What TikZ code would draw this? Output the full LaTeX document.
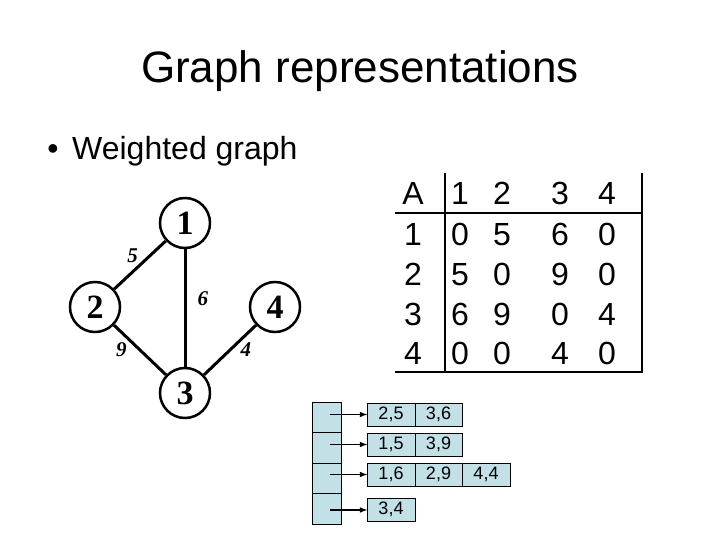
\documentclass[tikz,border=0pt]{standalone}
\usepackage{fontspec}
\setmainfont{Liberation Sans}
\newfontfamily\timesfont{Liberation Serif}
\usepackage{tikz}
\usetikzlibrary{positioning}

\definecolor{cellblue}{RGB}{194,224,230}

\tikzset{
  vertex/.style={draw,circle,line width=2.5pt,minimum size=50pt,inner sep=0pt,
    font=\timesfont\bfseries\fontsize{34}{36}\selectfont},
  edge/.style={line width=3pt},
  weight/.style={inner sep=0pt,font=\timesfont\bfseries\itshape\fontsize{21}{23}\selectfont},
  entry/.style={anchor=base,inner sep=0pt,font=\fontsize{32}{36}\selectfont},
  cell/.style={draw,rectangle,fill=cellblue,minimum width=29pt,minimum height=30.5pt,outer sep=0pt,inner sep=0pt},
  item/.style={draw,rectangle,fill=cellblue,minimum width=47.5pt,minimum height=23pt,outer sep=0pt,inner sep=0pt,
    text height=12pt,text depth=3pt,font=\fontsize{18}{20}\selectfont},
  arr/.style={-latex,line width=1.5pt}
}

\begin{document}
\begin{tikzpicture}[x=1pt,y=-1pt]
\useasboundingbox (0,0) rectangle (720,540);

\node [anchor=base] (title) at (360,83) {\fontsize{44}{50}\selectfont Graph representations};
\node [anchor=base] (dot) at (53,160) {\fontsize{32}{36}\selectfont\textbullet};
\node [anchor=base west,inner sep=0pt] (sub) at (72,160) {\fontsize{32}{36}\selectfont Weighted graph};

% the graph
\node [vertex] (n1) at (185,223) {1};
\node [vertex] (n2) at (95,307) {2};
\node [vertex] (n4) at (275,307) {4};
\node [vertex] (n3) at (185,393) {3};
\draw [edge] (n1) -- (n2) node[weight,midway,above left=1pt]{5};
\draw [edge] (n1) -- (n3) node[weight,pos=.42,right=11pt]{6};
\draw [edge] (n2) -- (n3) node[weight,midway,left=12pt]{9};
\draw [edge] (n3) -- (n4) node[weight,midway,right=9pt]{4};

% adjacency matrix
\node [entry] (hA) at (413,205) {A};
\node [entry] (h1) at (460,205) {1};
\node [entry] (h2) at (502,205) {2};
\node [entry] (h3) at (560,205) {3};
\node [entry] (h4) at (607,205) {4};
\foreach \r/\y/\a/\b/\c/\d in {1/245/0/5/6/0, 2/285/5/0/9/0, 3/325/6/9/0/4, 4/364/0/0/4/0}{
  \node [entry] (r\r) at (413,\y) {\r};
  \node [entry] (m\r a) at (460,\y) {\a};
  \node [entry] (m\r b) at (502,\y) {\b};
  \node [entry] (m\r c) at (560,\y) {\c};
  \node [entry] (m\r d) at (607,\y) {\d};
}
\draw [line width=2.5pt] (445,173) -- (445,372);
\draw [line width=2.5pt] (642,173) -- (642,372);
\draw [line width=2.5pt] (395,213) -- (642,213);
\draw [line width=2.5pt] (395,372) -- (643,372);

% adjacency lists
\node [cell] (v1) at (327,417.25) {};
\node [cell,below=0pt of v1] (v2) {};
\node [cell,below=0pt of v2] (v3) {};
\node [cell,below=0pt of v3] (v4) {};

\node [item] (l1a) at (391,414.5) {2,5};
\node [item,right=0pt of l1a] (l1b) {3,6};
\node [item] (l2a) at (391,444.5) {1,5};
\node [item,right=0pt of l2a] (l2b) {3,9};
\node [item] (l3a) at (391,474.5) {1,6};
\node [item,right=0pt of l3a] (l3b) {2,9};
\node [item,right=0pt of l3b] (l3c) {4,4};
\node [item] (l4a) at (391,510) {3,4};

\draw [arr] ([xshift=3pt]v1.center |- l1a.west) -- (l1a.west);
\draw [arr] ([xshift=3pt]v2.center |- l2a.west) -- (l2a.west);
\draw [arr] ([xshift=3pt]v3.center |- l3a.west) -- (l3a.west);
\draw [arr] ([xshift=3pt]v4.center |- l4a.west) -- (l4a.west);
\end{tikzpicture}
\end{document}
